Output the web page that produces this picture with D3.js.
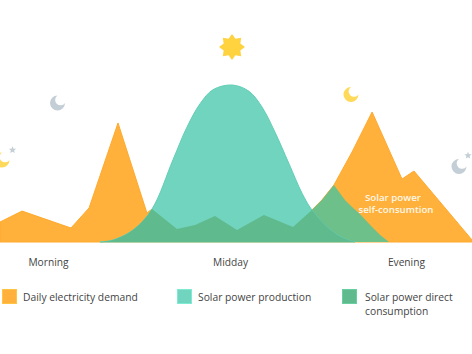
<!DOCTYPE html>
<html>
<head>
<meta charset="utf-8">
<script src="https://cdn.jsdelivr.net/npm/d3@7"></script>
<style>
    html, body { margin: 0; padding: 0; background: #fff; }
    svg { display: block; }
    text { font-family: "Open Sans", sans-serif; }
</style>
</head>
<body>
<div id="chart"></div>
<script>
// hour of day, share of the solar peak
const demandHours = [0, 1.12, 3.61, 4.53, 6.0, 7.47, 7.73, 9.0, 9.92, 10.93, 12.05, 13.42, 14.9, 15.86, 16.37, 16.98, 17.9, 18.92, 20.44, 21.05, 24];
const demandValues = [12.7, 19.7, 8.9, 21.7, 75.8, 18.5, 21.0, 8.3, 10.8, 16.6, 7.6, 17.2, 9.6, 20.4, 26.8, 36.3, 57.3, 82.8, 40.1, 45.2, 1.3];
const solarHours = [5.08, 5.75, 6.76, 7.73, 8.8, 9.5, 10.17, 10.83, 11.8, 12.66, 13.32, 13.98, 14.69, 15.36, 15.86, 16.73, 17.54, 18.05];
const solarValues = [0, 1.3, 7.6, 21.0, 52.5, 73, 88, 97, 100, 96, 86, 70, 50, 31, 20.4, 8.5, 2, 0];
const selfHours = [15.86, 16.37, 16.98, 17.54, 17.9, 18.25, 18.92, 19.33, 19.78];
const selfValues = [20.4, 26.8, 36.3, 26.8, 22.3, 18.5, 9.6, 4.5, 0];
const periodHours = [2.44, 11.7, 20.64];
const periodLabels = ["Morning", "Midday", "Evening"];
const legendLabels = [["Daily electricity demand"], ["Solar power production"], ["Solar power direct", "consumption"]];
const legendColors = ["#ffb13b", "#70d4be", "#5fba8e"];

const width = 472, height = 354, baseY = 242;

const svg = d3.select("#chart").append("svg")
    .attr("width", width)
    .attr("height", height);

const x = d3.scaleLinear().domain([0, 24]).range([0, width]);
const y = d3.scaleLinear().domain([0, 100]).range([baseY, 85]);

const demand = demandHours.map((h, i) => ({ h, v: demandValues[i] }));
const solar = solarHours.map((h, i) => ({ h, v: solarValues[i] }));
const self = selfHours.map((h, i) => ({ h, v: selfValues[i] }));

const area = d3.area().x(d => x(d.h)).y0(y(0)).y1(d => y(d.v));
const solarArea = d3.area().x(d => x(d.h)).y0(y(0)).y1(d => y(d.v)).curve(d3.curveCatmullRom);

svg.append("clipPath").attr("id", "solarClip")
    .append("path").attr("d", solarArea(solar));

svg.append("path").attr("d", area(demand))
    .attr("fill", "#ffb13b").attr("stroke", "#ffa92c").attr("stroke-width", 1);

svg.append("path").attr("d", area(self)).attr("fill", "#6dc08a");

svg.append("path").attr("d", solarArea(solar))
    .attr("fill", "#70d4be").attr("stroke", "#62cfb6").attr("stroke-width", 1);

// direct consumption is the part of demand that the sun covers
svg.append("path").attr("d", area(demand))
    .attr("clip-path", "url(#solarClip)")
    .attr("fill", "#5fba8e");

// time of day labels
const axis = svg.append("g")
    .attr("transform", `translate(0,${baseY})`)
    .call(d3.axisBottom(x).tickValues(periodHours).tickSize(0).tickPadding(17)
        .tickFormat((d, i) => periodLabels[i]));
axis.select(".domain").remove();
axis.selectAll("text")
    .style("font-family", '"Open Sans", sans-serif')
    .style("font-size", "10.2px")
    .attr("fill", "#444");

// annotation
svg.append("text").attr("x", 393).attr("y", 200.5).attr("text-anchor", "middle")
    .attr("font-size", 9.7).attr("font-weight", 600).attr("fill", "#fff8ea")
    .attr("textLength", 56).attr("lengthAdjust", "spacingAndGlyphs").text("Solar power");
svg.append("text").attr("x", 396).attr("y", 213).attr("text-anchor", "middle")
    .attr("font-size", 9.7).attr("font-weight", 600).attr("fill", "#fff8ea")
    .attr("textLength", 75).attr("lengthAdjust", "spacingAndGlyphs").text("self-consumtion");

// legend
const legendX = [2, 177, 342];
const legendTextX = [23, 198, 365];
legendLabels.forEach((lines, i) => {
    svg.append("rect")
        .attr("x", legendX[i] + 0.5).attr("y", 289.5)
        .attr("width", 14).attr("height", 14)
        .attr("fill", legendColors[i])
        .attr("stroke", d3.color(legendColors[i]).brighter(0.3));
    lines.forEach((line, j) => {
        svg.append("text")
            .attr("x", legendTextX[i]).attr("y", 301 + j * 14)
            .attr("font-size", 10.3).attr("fill", "#444")
            .text(line);
    });
});

// sun, moons and stars
function star(cx, cy, points, outer, inner, color) {
    const pts = d3.range(points * 2).map(i => [i * Math.PI / points, i % 2 ? inner : outer]);
    svg.append("path")
        .attr("transform", `translate(${cx},${cy})`)
        .attr("d", d3.lineRadial().curve(d3.curveLinearClosed)(pts))
        .attr("fill", color);
}
function moon(cx, cy, r, color) {
    svg.append("path")
        .attr("transform", `translate(${cx},${cy})`)
        .attr("d", `M0,${-r} A${r},${r} 0 1 0 ${r},0 A${0.72 * r},${0.72 * r} 0 1 1 0,${-r} Z`)
        .attr("fill", color);
}
star(232, 47, 8, 13, 9, "#ffd23f");
moon(57.5, 103, 7.5, "#c3ced6");
moon(351, 94.5, 7.5, "#ffd95a");
moon(459, 166.5, 7.5, "#c3ced6");
moon(2, 160, 7.5, "#ffd95a");
star(12.5, 150, 5, 3.8, 1.7, "#c3ced6");
star(468, 155.5, 5, 3.8, 1.7, "#c3ced6");
</script>
</body>
</html>
